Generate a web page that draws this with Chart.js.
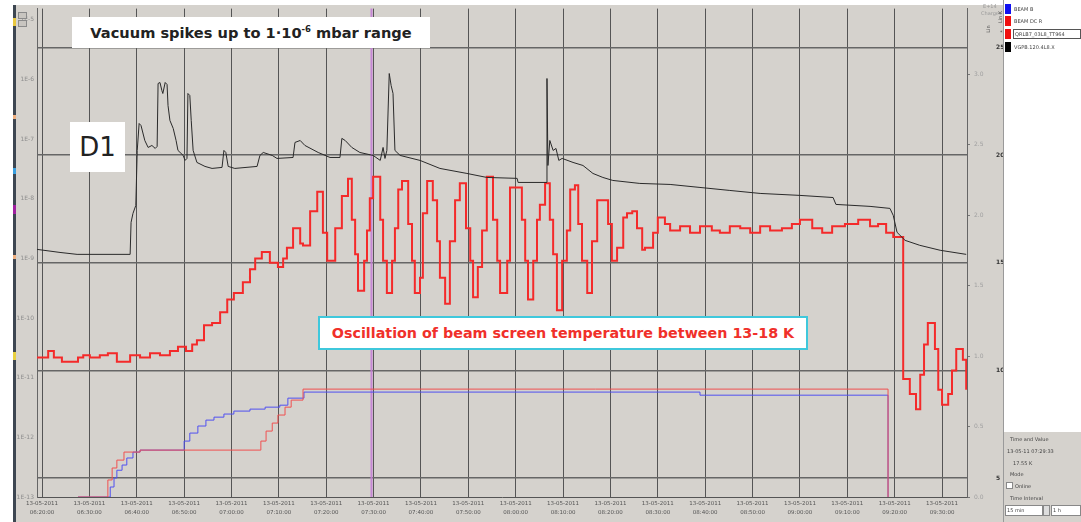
<!DOCTYPE html>
<html>
<head>
<meta charset="utf-8">
<script src="https://cdn.jsdelivr.net/npm/chart.js@4.4.0/dist/chart.umd.min.js"></script>
<style>
  body { margin: 0; width: 1081px; height: 522px; background: #fff; position: relative; overflow: hidden; font-family: 'DejaVu Sans', sans-serif; }
  #plotBg { position: absolute; left: 13px; top: 5px; width: 990px; height: 517px; background: #d5d2cd; }
  #strip { position: absolute; left: 13px; top: 5px; width: 3px; height: 517px; background: #3d4651; }
  .spot { position: absolute; left: 13px; width: 3px; }
  canvas { position: absolute; left: 0; top: 0; }
  .note { position: absolute; background: #fff; font-weight: bold; color: #222; white-space: nowrap; }
  .tiny { position: absolute; font-size: 5px; color: #444; white-space: nowrap; }
  .btn { position: absolute; width: 7px; height: 5px; background: #c8c5c0; border: 1px solid #8a8a8a; }
  #panel { position: absolute; left: 1003px; top: 0; width: 78px; height: 522px; background: #d5d2cd; border-left: 1px solid #9a9a9a; }
  #legendBox { position: absolute; left: 1004px; top: 0; width: 77px; height: 432px; background: #fff; }
  .sw { position: absolute; left: 1005px; width: 6px; height: 10px; }
  .box { position: absolute; background: #fff; border: 1px solid #888; }
</style>
</head>
<body>
<div id="plotBg"></div>
<div id="strip"></div>
<div class="spot" style="top:18px;height:8px;background:#e8c840"></div>
<div class="spot" style="top:168px;height:6px;background:#3aa0e0"></div>
<div class="spot" style="top:205px;height:9px;background:#a020a0"></div>
<div class="spot" style="top:352px;height:8px;background:#e8d040"></div>
<div class="spot" style="top:115px;height:4px;background:#f0b080"></div>
<div class="spot" style="top:255px;height:4px;background:#f0b080"></div>

<canvas id="chart" width="1003" height="522"></canvas>

<div class="btn" style="left:18px;top:12px"></div>
<div class="btn" style="left:18px;top:20px"></div>

<div class="note" style="left:72px;top:17px;width:358px;height:31px;line-height:31px;font-size:14.6px;text-align:center">Vacuum spikes up to 1·10<sup style="font-size:8.5px;line-height:0">-6</sup> mbar range</div>
<div class="note" style="left:70px;top:122px;width:55px;height:50px;line-height:50px;font-size:26px;font-weight:normal;text-align:center">D1</div>
<div class="note" style="left:318px;top:316px;width:486px;height:30px;line-height:30px;font-size:14.3px;text-align:center;color:#f0302a;border:2px solid #3fc8dc">Oscillation of beam screen temperature between 13-18 K</div>

<div class="tiny" style="left:983px;top:3px;color:#999">E+14</div>
<div class="tiny" style="left:981px;top:10px;color:#999">Charges</div>
<div class="tiny" style="left:984px;top:26px;transform:rotate(-90deg);color:#555">Lin</div>
<div class="tiny" style="left:994px;top:14px;transform:rotate(-90deg);color:#555">Lin K</div>

<div id="panel"></div>
<div id="legendBox"></div>
<div class="sw" style="top:4px;background:#1010f0"></div>
<div class="sw" style="top:16px;background:#f01010"></div>
<div class="sw" style="top:29px;background:#f01010"></div>
<div class="sw" style="top:42px;background:#000"></div>
<div class="tiny" style="left:1014px;top:6px">BEAM B</div>
<div class="tiny" style="left:1014px;top:18px">BEAM DC R</div>
<div class="tiny" style="left:1013px;top:29px;border:1px solid #555;padding:1px 1px;width:64px">QRLB7_03L8_TT964</div>
<div class="tiny" style="left:1014px;top:44px">VGPB.120.4L8.X</div>
<div class="tiny" style="left:1000px;top:29px">*</div>

<div class="tiny" style="left:1010px;top:436px">Time and Value</div>
<div class="tiny" style="left:1007px;top:448px">13-05-11 07:29:33</div>
<div class="tiny" style="left:1013px;top:460px">17.55 K</div>
<div class="tiny" style="left:1010px;top:471px">Mode</div>
<div class="box" style="left:1006px;top:482px;width:5px;height:5px"></div>
<div class="tiny" style="left:1015px;top:483px">Online</div>
<div class="tiny" style="left:1010px;top:495px">Time Interval</div>
<div class="box" style="left:1005px;top:505px;width:36px;height:9px"></div>
<div class="tiny" style="left:1007px;top:507px">15 min</div>
<div class="box" style="left:1043px;top:505px;width:5px;height:9px;background:#ddd"></div>
<div class="box" style="left:1051px;top:505px;width:28px;height:9px"></div>
<div class="tiny" style="left:1053px;top:507px">1 h</div>

<script>
// time axis: minutes after 13-05-2011 06:20:00
const xTickMinutes = [0, 10, 20, 30, 40, 50, 60, 70, 80, 90, 100, 110, 120, 130, 140, 150, 160, 170, 180, 190];
const xTickTimes = ['06:20:00', '06:30:00', '06:40:00', '06:50:00', '07:00:00', '07:10:00', '07:20:00', '07:30:00', '07:40:00', '07:50:00',
  '08:00:00', '08:10:00', '08:20:00', '08:30:00', '08:40:00', '08:50:00', '09:00:00', '09:10:00', '09:20:00', '09:30:00'];
const xDate = '13-05-2011';
const cursorMin = 69.55; // 07:29:33

const vacTicks = [1e-13, 1e-12, 1e-11, 1e-10, 1e-9, 1e-8, 1e-7, 1e-6, 1e-5];
const kTicks = [5, 10, 15, 20, 25];
const beamTicks = [0, 0.5, 1.0, 1.5, 2.0, 2.5, 3.0];

// beam screen temperature (K), stepped
const tempMin = [-1.1, 1.3, 2.5, 4.2, 7.6, 8.7, 10.1, 12.2, 13.9, 15.8, 18.6, 20.7, 22.8, 24.9, 27.0, 28.7, 30.4, 31.7, 32.7, 34.2,
  35.9, 37.6, 39.1, 40.5, 42.4, 43.9, 45.0, 46.4, 48.1, 49.8, 50.9, 51.7, 53.0, 54.5, 55.1, 56.6, 58.1, 59.3, 60.2, 61.9,
  63.3, 64.6, 65.4, 66.1, 66.7, 68.0, 68.6, 69.2, 69.9, 71.4, 72.0, 72.8, 73.9, 74.5, 75.2, 76.0, 77.3, 78.1, 78.7, 79.8,
  80.4, 81.3, 82.5, 83.4, 84.0, 85.1, 86.1, 87.2, 88.2, 89.5, 90.4, 91.0, 92.0, 92.9, 93.9, 95.2, 96.1, 96.7, 98.2, 98.8,
  101.3, 102.0, 102.6, 103.7, 104.5, 105.1, 106.2, 107.2, 107.9, 108.7, 109.8, 110.8, 111.5, 112.5, 113.2, 114.0, 115.1, 116.1, 117.2, 119.5,
  120.3, 121.4, 122.7, 123.5, 124.6, 125.6, 126.7, 127.3, 129.0, 130.0, 131.5, 132.6, 134.7, 136.8, 138.9, 141.4, 143.1, 145.2, 147.4, 149.5,
  151.6, 153.7, 156.2, 158.3, 160.0, 162.6, 164.7, 166.8, 169.5, 172.3, 174.8, 176.5, 178.2, 179.7, 181.8, 183.2, 184.5, 185.4, 186.2, 187.0,
  188.5, 189.2, 190.0, 191.3, 192.1, 193.0, 194.4, 195.1];
const tempK = [10.6, 10.9, 10.6, 10.4, 10.6, 10.7, 10.6, 10.7, 10.8, 10.4, 10.7, 10.6, 10.8, 10.7, 10.9, 11.1, 10.9, 11.2, 11.4, 12.1,
  12.2, 12.7, 13.3, 13.6, 14.1, 14.7, 15.2, 15.5, 15.0, 14.8, 15.2, 15.7, 16.6, 15.9, 15.8, 17.4, 18.3, 16.4, 15.1, 16.6,
  18.1, 18.9, 17.0, 15.4, 13.7, 15.1, 16.5, 18.0, 19.0, 17.0, 15.1, 13.6, 15.1, 16.6, 18.4, 18.8, 16.8, 15.1, 13.6, 14.3,
  17.3, 18.8, 17.9, 16.0, 14.3, 13.1, 16.0, 17.9, 18.7, 16.6, 15.1, 13.4, 14.8, 16.5, 19.0, 17.0, 15.1, 13.6, 15.1, 18.5,
  17.0, 15.1, 13.3, 15.1, 17.0, 17.7, 18.7, 17.0, 15.4, 12.8, 15.1, 16.5, 18.4, 18.6, 16.8, 15.1, 13.6, 16.0, 17.9, 16.8,
  15.1, 15.7, 17.1, 17.3, 17.4, 16.6, 15.6, 15.7, 16.4, 17.1, 16.8, 16.5, 16.7, 16.4, 16.7, 16.5, 16.4, 16.7, 16.6, 16.4,
  16.7, 16.5, 16.6, 16.8, 17.0, 16.6, 16.4, 16.7, 16.8, 17.0, 16.7, 16.8, 16.4, 16.2, 9.6, 8.9, 8.2, 9.8, 11.2, 12.2,
  11.0, 9.1, 8.4, 8.9, 10.0, 11.0, 10.5, 9.1];

// vacuum gauge VGPB (mbar)
const vacMin = [-1.1, 3.8, 7.4, 18.6, 18.8, 19.2, 19.8, 20.1, 20.5, 20.9, 21.7, 22.4, 23.2, 23.9, 24.3, 24.5, 24.9, 25.3, 25.5, 26.0,
  26.4, 26.6, 27.0, 27.7, 28.3, 28.7, 29.8, 30.2, 30.6, 30.8, 31.2, 31.5, 31.9, 32.7, 34.4, 35.9, 38.0, 38.4, 38.8, 39.3,
  40.7, 45.4, 46.0, 46.7, 48.6, 49.6, 53.0, 53.4, 54.5, 55.5, 58.3, 60.8, 62.9, 63.3, 64.0, 65.4, 67.1, 69.9, 71.4, 72.0,
  72.4, 72.8, 73.3, 73.7, 74.1, 74.5, 75.6, 79.8, 84.0, 89.7, 93.9, 100.3, 100.5, 106.4, 106.6, 106.8, 107.2, 107.9, 108.5, 109.1,
  109.8, 112.1, 114.2, 116.3, 118.4, 120.5, 126.2, 132.6, 138.9, 145.2, 151.6, 160.0, 167.0, 167.6, 174.8, 179.0, 179.7, 180.5, 182.2, 185.3,
  189.6, 195.1];
const vacMbar = [1.42e-9, 1.26e-9, 1.17e-9, 1.17e-9, 4.03e-9, 5.69e-9, 7.74e-9, 6.47e-8, 1.83e-7, 1.69e-7, 9.5e-8, 7.26e-8, 7.84e-8, 6.99e-8, 7.55e-8, 8.57e-7, 8.91e-7, 6.54e-7, 5.83e-7, 8.91e-7,
  8.24e-7, 3.66e-7, 2.06e-7, 1.51e-7, 9.5e-8, 6.47e-8, 5.33e-8, 4.40e-8, 4.75e-8, 5.83e-7, 5.39e-7, 2.06e-7, 6.47e-8, 4.07e-8, 3.49e-8, 3.23e-8, 3.36e-8, 6.47e-8, 5.98e-8, 3.49e-8,
  3.23e-8, 3.49e-8, 5.33e-8, 5.98e-8, 5.33e-8, 4.75e-8, 4.93e-8, 8.81e-8, 9.5e-8, 7.84e-8, 5.98e-8, 4.93e-8, 4.93e-8, 1.03e-7, 9.5e-8, 7.26e-8, 5.98e-8, 5.33e-8, 4.40e-8, 7.26e-8,
  4.75e-8, 6.47e-8, 1.26e-6, 7.93e-7, 5.83e-7, 6.47e-8, 5.33e-8, 4.40e-8, 3.23e-8, 2.66e-8, 2.28e-8, 2.20e-8, 1.88e-8, 1.88e-8, 1.04e-6, 3.62e-8, 9.5e-8, 6.47e-8, 6.99e-8, 4.40e-8,
  4.75e-8, 4.07e-8, 3.62e-8, 2.66e-8, 2.28e-8, 2.03e-8, 1.81e-8, 1.74e-8, 1.55e-8, 1.38e-8, 1.23e-8, 1.14e-8, 1.05e-8, 8.05e-9, 7.46e-9, 6.90e-9, 5.27e-9, 2.74e-9, 2.01e-9, 1.66e-9,
  1.37e-9, 1.17e-9];

// beam intensities (E+14 charges), stepped, dumped at ~09:18:40
const beamBMin = [7.6, 14.4, 15.2, 15.8, 16.9, 17.9, 19.2, 20.7, 30.0, 31.2, 32.9, 34.6, 36.3, 38.4, 40.5, 43.9, 47.1, 50.2, 51.9, 55.3, 138.9, 178.6];
const beamBVal = [0.0, 0.071, 0.135, 0.19, 0.227, 0.277, 0.319, 0.333, 0.397, 0.454, 0.504, 0.546, 0.567, 0.589, 0.61, 0.624, 0.638, 0.652, 0.702, 0.745, 0.723, 0.0];
const beamRMin = [7.6, 13.9, 14.8, 15.8, 17.3, 20.7, 46.2, 47.3, 48.6, 49.8, 51.3, 52.6, 55.1, 178.6];
const beamRVal = [0.0, 0.121, 0.206, 0.262, 0.319, 0.333, 0.397, 0.468, 0.525, 0.582, 0.638, 0.688, 0.766, 0.0];

const pts = (xs, ys) => xs.map((x, i) => ({ x: x, y: ys[i] }));

const cursorPlugin = {
  id: 'cursor',
  beforeDatasetsDraw(chart) {
    const ctx = chart.ctx;
    const x = chart.scales.x.getPixelForValue(cursorMin);
    ctx.save();
    ctx.strokeStyle = 'rgba(196,126,214,0.9)';
    ctx.lineWidth = 2;
    ctx.beginPath();
    ctx.moveTo(x, chart.chartArea.top);
    ctx.lineTo(x, chart.chartArea.bottom);
    ctx.stroke();
    ctx.restore();
  }
};

const tinyFont = { family: 'DejaVu Sans', size: 6 };

new Chart(document.getElementById('chart'), {
  type: 'line',
  data: {
    datasets: [
      { data: pts(vacMin, vacMbar), yAxisID: 'yVac', borderColor: '#2a2a2a', borderWidth: 1, pointRadius: 0, tension: 0 },
      { data: pts(tempMin, tempK), yAxisID: 'yK', borderColor: '#f42a2a', borderWidth: 2, pointRadius: 0, stepped: true },
      { data: pts(beamRMin, beamRVal), yAxisID: 'yBeam', borderColor: '#f05050', borderWidth: 1, pointRadius: 0, stepped: true },
      { data: pts(beamBMin, beamBVal), yAxisID: 'yBeam', borderColor: '#5050f0', borderWidth: 1, pointRadius: 0, stepped: true }
    ]
  },
  options: {
    responsive: false,
    animation: false,
    devicePixelRatio: 1,
    layout: { padding: { left: 16, top: 8, right: 0, bottom: 0 } },
    plugins: { legend: { display: false }, tooltip: { enabled: false } },
    scales: {
      x: {
        type: 'linear', position: 'bottom', min: -1.06, max: 195.27,
        afterBuildTicks: s => { s.ticks = xTickMinutes.map(v => ({ value: v })); },
        afterFit: s => { s.height = 25; },
        grid: { color: '#555', lineWidth: 1, drawTicks: false },
        border: { display: true, color: '#555' },
        ticks: {
          font: { family: 'DejaVu Sans', size: 5.5, lineHeight: 1.7 }, color: '#555', padding: 2, maxRotation: 0, autoSkip: false,
          callback: (v, i) => [xDate, xTickTimes[i]]
        }
      },
      yVac: {
        type: 'logarithmic', position: 'left', min: 1e-13, max: 1.545e-5,
        afterBuildTicks: s => { s.ticks = vacTicks.map(v => ({ value: v })); },
        afterFit: s => { s.width = 21; },
        grid: { drawOnChartArea: false, drawTicks: false },
        border: { display: true, color: '#666' },
        ticks: { font: tinyFont, color: '#8e8e8e', padding: 3, callback: v => '1E' + Math.round(Math.log10(v)) }
      },
      yBeam: {
        type: 'linear', position: 'right', weight: 0, min: 0, max: 3.468,
        afterBuildTicks: s => { s.ticks = beamTicks.map(v => ({ value: v })); },
        afterFit: s => { s.width = 24; },
        grid: { drawOnChartArea: false, drawTicks: true, tickLength: 3, color: '#777' },
        border: { display: true, color: '#666' },
        ticks: { font: tinyFont, color: '#a0a0a0', padding: 4, callback: v => v.toFixed(1) }
      },
      yK: {
        type: 'linear', position: 'right', weight: 1, min: 4.118, max: 26.81,
        afterBuildTicks: s => { s.ticks = kTicks.map(v => ({ value: v })); },
        afterFit: s => { s.width = 12; },
        grid: { drawOnChartArea: true, drawTicks: false, color: '#666', lineWidth: 1.5 },
        border: { display: false },
        ticks: { font: { family: 'DejaVu Sans', size: 6, weight: 'bold' }, color: '#333', padding: 5 }
      }
    }
  },
  plugins: [cursorPlugin]
});
</script>
</body>
</html>
